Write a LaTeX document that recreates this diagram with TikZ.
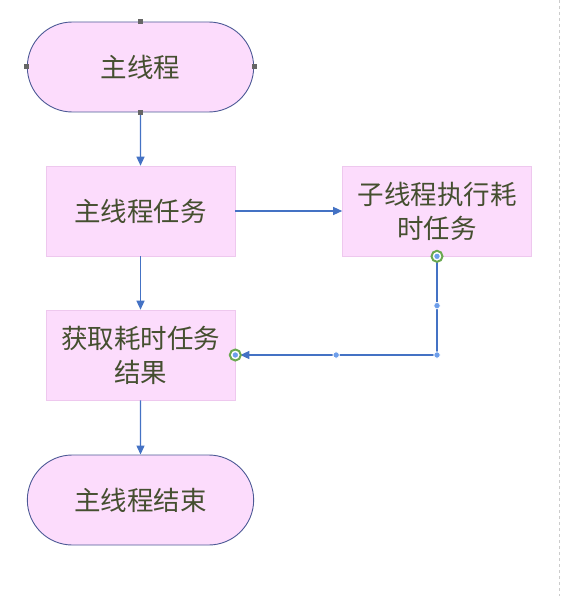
\documentclass[tikz,border=0pt]{standalone}
\usepackage{fontspec}
\setmainfont{Noto Sans CJK SC}
\usepackage{tikz}
\usetikzlibrary{positioning}
\usetikzlibrary{arrows.meta}
\usetikzlibrary{shapes.misc}
\usetikzlibrary{calc}

\definecolor{boxfill}{HTML}{FCDCFC}
\definecolor{boxline}{HTML}{EEC8EE}
\definecolor{termline}{HTML}{4D5A96}
\definecolor{txtcol}{HTML}{454F30}
\definecolor{arrowcol}{HTML}{4472C4}
\definecolor{dotcol}{HTML}{6D9EEB}
\definecolor{handlecol}{HTML}{666666}
\definecolor{greencol}{HTML}{6AA84F}

\tikzset{
  terminal/.style={rounded rectangle, draw=termline, fill=boxfill, line width=0.9pt, minimum width=233pt, minimum height=90pt, text=txtcol, font=\fontsize{26.5}{34}\selectfont},
  process/.style={rectangle, draw=boxline, fill=boxfill, line width=0.6pt, minimum width=189pt, minimum height=90pt, text=txtcol, align=center, font=\fontsize{26.5}{34}\selectfont},
  flow/.style={draw=arrowcol, line width=1.3pt, -{Triangle[length=9pt,width=8pt]}},
  handle/.style={rectangle, fill=handlecol, inner sep=0pt, minimum size=5pt},
  waypoint/.style={circle, draw=white, fill=dotcol, line width=0.8pt, inner sep=0pt, minimum size=6.5pt},
  endpoint/.style={circle, draw=greencol, fill=white, line width=2pt, inner sep=0pt, minimum size=11pt}
}

\begin{document}
\begin{tikzpicture}[x=1pt,y=-1pt]
\useasboundingbox (0,0) rectangle (565,596);

\draw[dashed, color=gray!40, line width=0.8pt] (559,0) -- (559,596);

\node (start) at (140.5,67) [terminal] {主线程};
\node (maintask) at (140.5,211) [process] {主线程任务};
\node (subtask) at (437,211) [process] {子线程执行耗\\时任务};
\node (result) at (140.5,355) [process] {获取耗时任务\\结果};
\node (stop) at (140.5,500) [terminal] {主线程结束};

% connectors
\draw[flow] (start) -- (maintask);
\draw[flow] (maintask) -- (subtask);
\draw[flow] (maintask) -- (result);
\draw[flow] (result) -- (stop);
\coordinate (corner) at (subtask.south |- result.east);
\draw[flow, shorten >=5pt] (subtask.south) -- (corner) -- (result.east);

% selection handles
\node (hn) at (start.north) [handle] {};
\node (hs) at (start.south) [handle] {};
\node (hw) at (start.west) [handle] {};
\node (he) at (start.east) [handle] {};

\node (p1) at ($(subtask.south)!0.5!(corner)$) [waypoint] {};
\node (p2) at (corner) [waypoint] {};
\node (p3) at ($(corner)!0.5!(result.east)$) [waypoint] {};
\node (e1) at (subtask.south) [endpoint] {};
\node (e2) at (result.east) [endpoint] {};
\node (c1) at (e1) [waypoint] {};
\node (c2) at (e2) [waypoint] {};

\end{tikzpicture}
\end{document}
